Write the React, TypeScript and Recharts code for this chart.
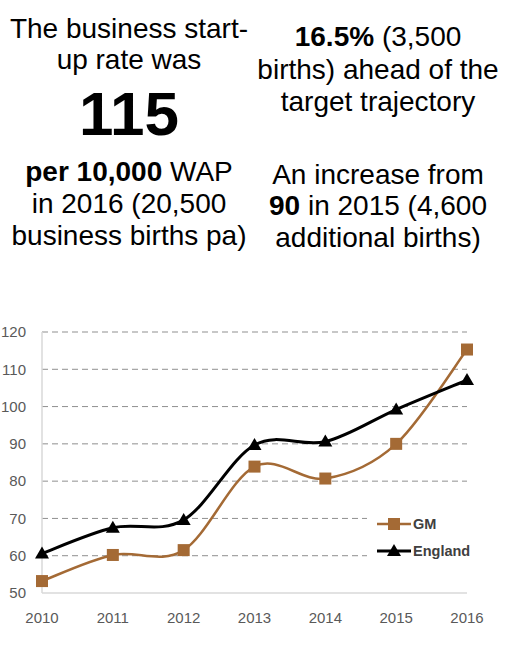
import React from "react"
import { CartesianGrid, Legend, Line, LineChart, XAxis, YAxis } from "recharts"

const years = ["2010", "2011", "2012", "2013", "2014", "2015", "2016"]
const gmRate = [53.2, 60.2, 61.5, 83.9, 80.7, 90, 115.3]
const englandRate = [60.6, 67.5, 69.6, 89.7, 90.6, 99.2, 107.1]
const yTicks = [50, 60, 70, 80, 90, 100, 110, 120]
const gridValues = [60, 70, 80, 90, 100, 110, 120]

const GM_COLOR = "#A46A35"
const ENG_COLOR = "#000000"

const data = years.map((year, i) => ({ year, gm: gmRate[i], england: englandRate[i] }))

// Excel-like smoothed line (Catmull-Rom through the points)
function smoothCurve(context: any) {
    let pts: number[][] = []
    return {
        areaStart() {},
        areaEnd() {},
        lineStart() {
            pts = []
        },
        point(x: number, y: number) {
            pts.push([+x, +y])
        },
        lineEnd() {
            const n = pts.length
            if (!n) return
            context.moveTo(pts[0][0], pts[0][1])
            for (let i = 0; i < n - 1; i++) {
                const p0 = pts[i - 1] || pts[i]
                const p1 = pts[i]
                const p2 = pts[i + 1]
                const p3 = pts[i + 2] || p2
                const t = 1 / 6
                context.bezierCurveTo(
                    p1[0] + (p2[0] - p0[0]) * t,
                    p1[1] + (p2[1] - p0[1]) * t,
                    p2[0] - (p3[0] - p1[0]) * t,
                    p2[1] - (p3[1] - p1[1]) * t,
                    p2[0],
                    p2[1]
                )
            }
        },
    }
}

const SquareDot = (props: any) => {
    const { cx, cy, index } = props
    if (cx == null || cy == null) return null
    return <rect key={`sq-${index}`} x={cx - 6} y={cy - 6} width={12} height={12} fill={GM_COLOR} />
}

const TriangleDot = (props: any) => {
    const { cx, cy, index } = props
    if (cx == null || cy == null) return null
    return (
        <polygon
            key={`tr-${index}`}
            points={`${cx},${cy - 7} ${cx + 7},${cy + 5} ${cx - 7},${cy + 5}`}
            fill={ENG_COLOR}
        />
    )
}

const renderLegend = () => {
    const items = [
        { name: "GM", color: GM_COLOR, shape: "square" },
        { name: "England", color: ENG_COLOR, shape: "triangle" },
    ]
    return (
        <div style={{ background: "#fff", padding: "6px 0 6px 10px" }}>
            {items.map((item) => (
                <div key={item.name} style={{ display: "flex", alignItems: "center", height: 27 }}>
                    <svg width={34} height={16}>
                        <line x1={0} y1={8} x2={34} y2={8} stroke={item.color} strokeWidth={item.shape === "square" ? 2.5 : 3} />
                        {item.shape === "square" ? (
                            <rect x={11} y={2} width={12} height={12} fill={item.color} />
                        ) : (
                            <polygon points="17,1 24,13 10,13" fill={item.color} />
                        )}
                    </svg>
                    <span
                        style={{
                            fontFamily: "'Liberation Sans', Arial, sans-serif",
                            fontWeight: "bold",
                            fontSize: 14.5,
                            color: "#404040",
                            marginLeft: 2,
                        }}
                    >
                        {item.name}
                    </span>
                </div>
            ))}
        </div>
    )
}

const textBase: React.CSSProperties = {
    position: "absolute",
    width: 300,
    textAlign: "center",
    fontFamily: "'Liberation Sans', Arial, sans-serif",
    fontSize: 28,
    lineHeight: "32px",
    color: "#000",
    whiteSpace: "nowrap",
}

function TextLine({ cx, baseline, children }: { cx: number; baseline: number; children: React.ReactNode }) {
    return <div style={{ ...textBase, left: cx - 150, top: baseline - 25.7 }}>{children}</div>
}

export default function App() {
    const leftX = 129
    const rightX = 378
    return (
        <div style={{ position: "absolute", left: 0, top: 0, width: 510, height: 645, background: "#fff" }}>
            <TextLine cx={leftX} baseline={39}>The business start-</TextLine>
            <TextLine cx={leftX} baseline={70}>up rate was</TextLine>
            <div
                style={{
                    ...textBase,
                    left: leftX - 150,
                    top: 135 - 56.5,
                    fontSize: 62,
                    lineHeight: "70px",
                    fontWeight: "bold",
                }}
            >
                115
            </div>
            <TextLine cx={leftX} baseline={182}>
                <b>per 10,000</b> WAP
            </TextLine>
            <TextLine cx={leftX} baseline={214}>in 2016 (20,500</TextLine>
            <TextLine cx={leftX} baseline={246}>business births pa)</TextLine>

            <TextLine cx={rightX} baseline={47}>
                <b>16.5%</b> (3,500
            </TextLine>
            <TextLine cx={rightX} baseline={80}>births) ahead of the</TextLine>
            <TextLine cx={rightX} baseline={112}>target trajectory</TextLine>
            <TextLine cx={rightX} baseline={185}>An increase from</TextLine>
            <TextLine cx={rightX} baseline={216}>
                <b>90</b> in 2015 (4,600
            </TextLine>
            <TextLine cx={rightX} baseline={248}>additional births)</TextLine>

            <div style={{ position: "absolute", left: 0, top: 320 }}>
                <LineChart width={510} height={320} data={data} margin={{ top: 12, right: 43, left: 0, bottom: 17 }}>
                    <CartesianGrid
                        vertical={false}
                        horizontalValues={gridValues}
                        stroke="#8f8f8f"
                        strokeDasharray="6 4"
                        strokeWidth={1}
                    />
                    <XAxis
                        dataKey="year"
                        height={30}
                        tickSize={0}
                        tickMargin={19}
                        axisLine={{ stroke: "#d9d9d9", strokeWidth: 1.5 }}
                        tickLine={false}
                        tick={{ fill: "#595959", fontSize: 15, fontFamily: "'Liberation Sans', Arial, sans-serif" }}
                        interval={0}
                    />
                    <YAxis
                        width={42}
                        domain={[50, 120]}
                        ticks={yTicks}
                        tickSize={0}
                        tickMargin={16}
                        axisLine={{ stroke: "#d9d9d9", strokeWidth: 1.5 }}
                        tickLine={false}
                        tick={{ fill: "#595959", fontSize: 15, fontFamily: "'Liberation Sans', Arial, sans-serif" }}
                        interval={0}
                    />
                    <Legend
                        layout="vertical"
                        align="center"
                        verticalAlign="middle"
                        content={renderLegend}
                        wrapperStyle={{ left: 367, top: 184, width: 110 }}
                    />
                    <Line
                        dataKey="gm"
                        name="GM"
                        type={smoothCurve as any}
                        stroke={GM_COLOR}
                        strokeWidth={2.5}
                        dot={SquareDot}
                        activeDot={false}
                        isAnimationActive={false}
                    />
                    <Line
                        dataKey="england"
                        name="England"
                        type={smoothCurve as any}
                        stroke={ENG_COLOR}
                        strokeWidth={3}
                        dot={TriangleDot}
                        activeDot={false}
                        isAnimationActive={false}
                    />
                </LineChart>
            </div>
        </div>
    )
}
